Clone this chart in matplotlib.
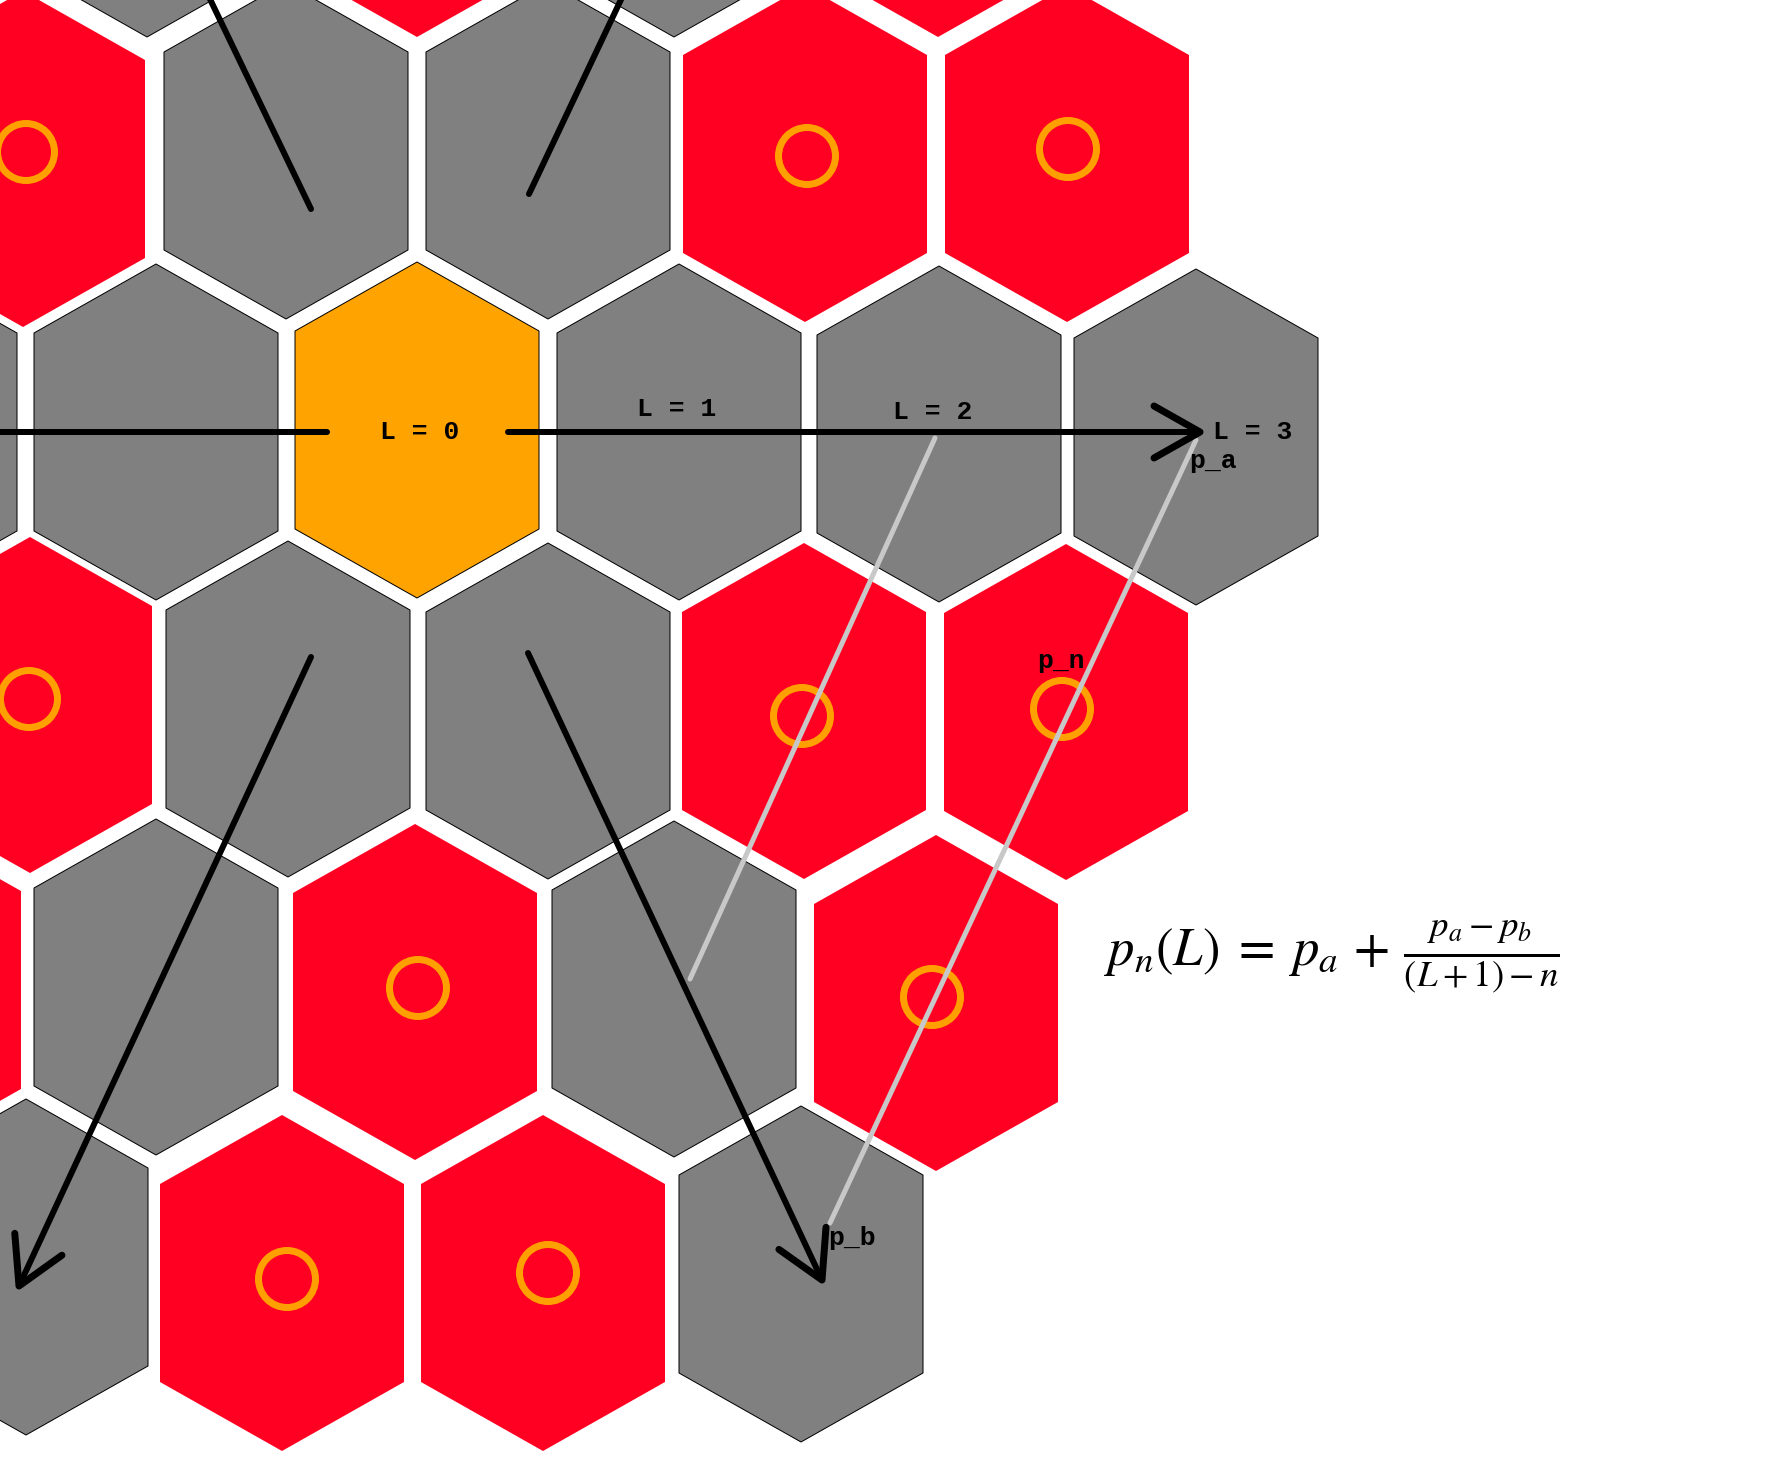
import numpy as np
import matplotlib
matplotlib.use("Agg")
import matplotlib.pyplot as plt
from matplotlib.patches import Polygon, Circle

plt.rcParams['mathtext.fontset'] = 'stix'

# ---- data (pixel coordinates) ----
hex_x = [147, 417, 674, 938,
         23, 286, 548, 805, 1067,
         -105, 156, 417, 679, 939, 1196,
         30, 288, 548, 804, 1066,
         -101, 156, 415, 674, 936,
         26, 282, 543, 801]
hex_y = [-131, -131, -131, -131,
         159, 151, 151, 154, 154,
         432, 432, 430, 432, 434, 437,
         705, 709, 711, 711, 712,
         990, 987, 992, 989, 1003,
         1267, 1283, 1283, 1274]
hex_kind = ['g', 'r', 'g', 'r',
            'r', 'g', 'g', 'r', 'r',
            'g', 'g', 'o', 'g', 'g', 'g',
            'r', 'g', 'g', 'r', 'r',
            'r', 'g', 'r', 'g', 'r',
            'g', 'r', 'r', 'g']

circ_x = [26, 807, 1068, 29, 802, 1062, 418, 932, 287, 548]
circ_y = [152, 156, 149, 699, 716, 709, 988, 997, 1279, 1273]

# black arrows with heads: (start, tip)
head_arrows = [((508, 432), (1200, 432)),
               ((311, 657), (19, 1286)),
               ((528, 653), (822, 1280))]
# black lines leaving the picture (heads off-canvas)
plain_lines = [((327, 432), (-30, 432)),
               ((311, 209), (196, -30)),
               ((529, 194), (635, -30))]
# light grey interpolation lines
grey_lines = [((935, 438), (690, 979)),
              ((1196, 440), (830, 1223))]

labels = [("L = 0", 420, 432, 'center'),
          ("L = 1", 677, 409, 'center'),
          ("L = 2", 933, 412, 'center'),
          ("L = 3", 1213, 432, 'left'),
          ("p_a", 1189, 461, 'left'),
          ("p_n", 1061, 661, 'center'),
          ("p_b", 828, 1238, 'left')]

formula = r"$p_n(L)\;=\;p_a\,+\,\frac{p_a-p_b}{(L+1)-n}$"

# ---- styling ----
colors = {'g': '#808080', 'r': '#ff0022', 'o': '#ffa300'}
HW, HH, HS = 122, 168, 99  # half width, half height, side vertex offset
PX = 0.72  # points per pixel at dpi 100

fig = plt.figure(figsize=(17.8, 14.63), dpi=100)
ax = fig.add_axes([0, 0, 1, 1])
ax.set_xlim(0, 1780)
ax.set_ylim(1463, 0)
ax.axis('off')

for x, y, k in zip(hex_x, hex_y, hex_kind):
    verts = [(x, y - HH), (x + HW, y - HS), (x + HW, y + HS),
             (x, y + HH), (x - HW, y + HS), (x - HW, y - HS)]
    if k == 'r':
        p = Polygon(verts, closed=True, facecolor=colors[k], edgecolor='none', zorder=1)
    else:
        p = Polygon(verts, closed=True, facecolor=colors[k], edgecolor='black',
                    linewidth=1.0 * PX, zorder=1)
    ax.add_patch(p)

for x, y in zip(circ_x, circ_y):
    ax.add_patch(Circle((x, y), 28.5, facecolor='none', edgecolor='#ffa000',
                        linewidth=7 * PX, zorder=2))

for (x0, y0), (x1, y1) in grey_lines:
    ax.plot([x0, x1], [y0, y1], color='#c8c8c8', lw=5 * PX,
            solid_capstyle='round', zorder=3)

for (x0, y0), (x1, y1) in plain_lines:
    ax.plot([x0, x1], [y0, y1], color='black', lw=6 * PX,
            solid_capstyle='round', zorder=4)

for (x0, y0), (x1, y1) in head_arrows:
    ax.plot([x0, x1], [y0, y1], color='black', lw=6 * PX,
            solid_capstyle='round', zorder=4)
    u = np.array([x1 - x0, y1 - y0], dtype=float)
    u /= np.hypot(*u)
    n = np.array([-u[1], u[0]])
    tip = np.array([x1, y1], dtype=float)
    a1 = tip - 46 * u + 26 * n
    a2 = tip - 46 * u - 26 * n
    ax.plot([a1[0], tip[0], a2[0]], [a1[1], tip[1], a2[1]], color='black',
            lw=7 * PX, solid_capstyle='round', solid_joinstyle='round', zorder=4)

for txt, x, y, ha in labels:
    ax.text(x, y, txt, ha=ha, va='center', fontsize=19, family='Liberation Mono',
            fontweight='bold', color='black', zorder=5)

ax.text(1104, 965, formula, ha='left', va='baseline', fontsize=38, color='black', zorder=5)

fig.savefig('out.png', dpi=100, facecolor='white')
